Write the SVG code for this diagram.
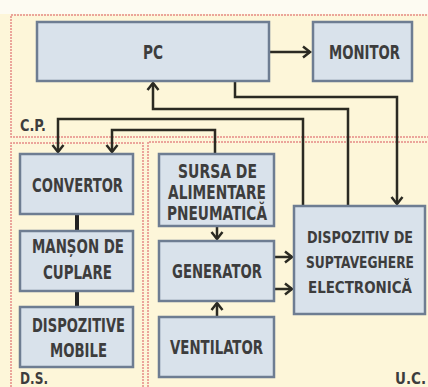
<svg xmlns="http://www.w3.org/2000/svg" width="428" height="387" viewBox="0 0 428 387">
<style>
.box{fill:#d9e2eb;stroke:#6e7d92;stroke-width:2.5}
.t{font-family:"Liberation Sans Narrow","DejaVu Sans Condensed","Liberation Sans",sans-serif;font-weight:bold;font-size:19px;fill:#3d3d3d;text-anchor:middle}
.s{font-size:16.5px}
.lbl{font-family:"Liberation Sans Narrow","DejaVu Sans Condensed","Liberation Sans",sans-serif;font-weight:bold;font-size:16px;fill:#3d3d3d}
.reg{fill:none;stroke:#e58a86;stroke-width:1.5;stroke-dasharray:2 1}
.c{fill:none;stroke:#2b2a22;stroke-width:2.5;stroke-linejoin:miter}
.thick{stroke:#222;stroke-width:4}
</style>
<defs>
<marker id="ah" markerUnits="userSpaceOnUse" markerWidth="14" markerHeight="14" viewBox="-10 -7 12 14" refX="0" refY="0" orient="auto">
<path d="M-7,-5.5 L0,0 L-7,5.5" fill="none" stroke="#2b2a22" stroke-width="2.5"/>
</marker>
</defs>
<rect x="0" y="0" width="428" height="387" fill="#fdfbf2"/>
<rect x="0" y="14" width="428" height="373" fill="#fdf6d9"/>
<g id="regions">
<path class="reg" d="M430,15 H11 V137 H430"/>
<path class="reg" d="M11,390 V143 H143 V390"/>
<path class="reg" d="M148,390 V142 H430"/>
<text class="lbl" x="20" y="131" textLength="26" lengthAdjust="spacingAndGlyphs">C.P.</text>
<text class="lbl" x="20" y="384" textLength="28" lengthAdjust="spacingAndGlyphs">D.S.</text>
<text class="lbl" x="395" y="384" textLength="31" lengthAdjust="spacingAndGlyphs">U.C.</text>
</g>
<g id="connectors">
<path class="c" d="M269,52 H310" marker-end="url(#ah)"/>
<path class="c" d="M235,82 V97 H397 V204" marker-end="url(#ah)"/>
<path class="c" d="M348,205 V109 H153 V83" marker-end="url(#ah)"/>
<path class="c" d="M303,205 V119 H58 V152" marker-end="url(#ah)"/>
<path class="c" d="M215,153 V130 H112 V152" marker-end="url(#ah)"/>
<path class="c" d="M217,227 V239" marker-end="url(#ah)"/>
<path class="c" d="M217,317 V303" marker-end="url(#ah)"/>
<path class="c" d="M275,257 H292" marker-end="url(#ah)"/>
<path class="c" d="M275,289 H292" marker-end="url(#ah)"/>
<path class="c thick" d="M77,215 V230"/>
<path class="c thick" d="M77,292 V306"/>
</g>
<g id="pc"><rect class="box" x="37" y="22" width="232" height="59"/><text class="t" x="153" y="59" textLength="20" lengthAdjust="spacingAndGlyphs">PC</text></g>
<g id="monitor"><rect class="box" x="313" y="22" width="99" height="59"/><text class="t" x="364.5" y="59" textLength="71" lengthAdjust="spacingAndGlyphs">MONITOR</text></g>
<g id="convertor"><rect class="box" x="20" y="154" width="113" height="60"/><text class="t" x="77.5" y="192" textLength="91" lengthAdjust="spacingAndGlyphs">CONVERTOR</text></g>
<g id="manson"><rect class="box" x="20" y="231" width="113" height="60"/><text class="t" x="78" y="253" textLength="92" lengthAdjust="spacingAndGlyphs">MANȘON DE</text><text class="t" x="77.5" y="279" textLength="69" lengthAdjust="spacingAndGlyphs">CUPLARE</text></g>
<g id="mobile"><rect class="box" x="20" y="307" width="113" height="60"/><text class="t" x="78.5" y="332" textLength="93" lengthAdjust="spacingAndGlyphs">DISPOZITIVE</text><text class="t" x="78.5" y="357" textLength="57" lengthAdjust="spacingAndGlyphs">MOBILE</text></g>
<g id="sursa"><rect class="box" x="159" y="154" width="115" height="72"/><text class="t" x="217.5" y="178" textLength="79" lengthAdjust="spacingAndGlyphs">SURSA DE</text><text class="t" x="217" y="199" textLength="98" lengthAdjust="spacingAndGlyphs">ALIMENTARE</text><text class="t" x="217" y="220" textLength="100" lengthAdjust="spacingAndGlyphs">PNEUMATICĂ</text></g>
<g id="generator"><rect class="box" x="159" y="241" width="115" height="60"/><text class="t" x="217" y="278" textLength="90" lengthAdjust="spacingAndGlyphs">GENERATOR</text></g>
<g id="ventilator"><rect class="box" x="159" y="317" width="115" height="60"/><text class="t" x="216.5" y="354" textLength="93" lengthAdjust="spacingAndGlyphs">VENTILATOR</text></g>
<g id="dispozitiv"><rect class="box" x="294" y="206" width="131" height="108"/><text class="t s" x="360" y="243" textLength="106" lengthAdjust="spacingAndGlyphs">DISPOZITIV DE</text><text class="t s" x="360" y="268" textLength="108" lengthAdjust="spacingAndGlyphs">SUPTAVEGHERE</text><text class="t s" x="360" y="293" textLength="104" lengthAdjust="spacingAndGlyphs">ELECTRONICĂ</text></g>
</svg>
